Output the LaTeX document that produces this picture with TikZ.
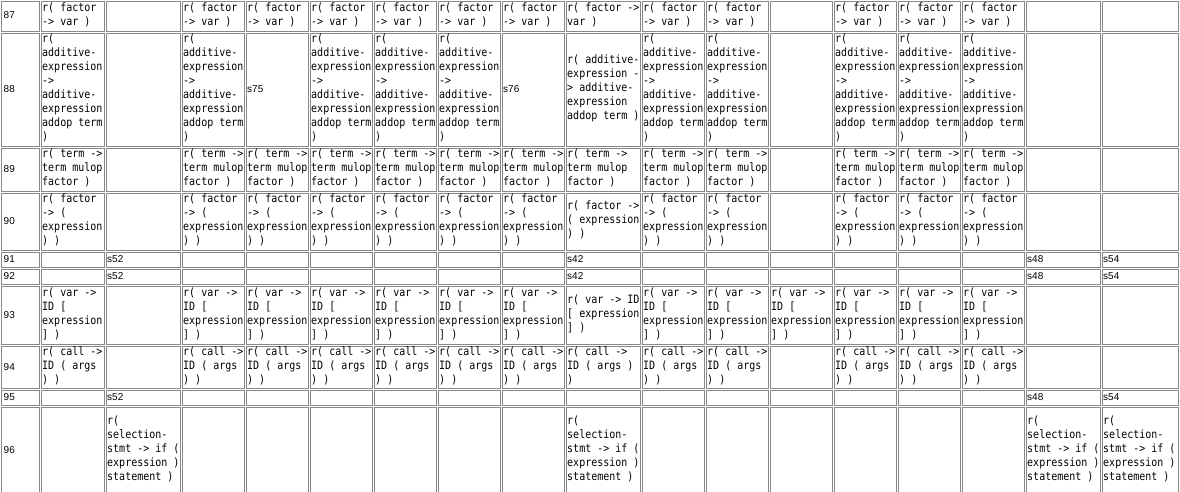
\documentclass[tikz,border=0pt]{standalone}
\usepackage{fontspec}
\newfontfamily\monof[FakeStretch=0.87]{DejaVu Sans Mono}
\newfontfamily\numf{Liberation Sans}
\definecolor{bd}{HTML}{888888}
\newcommand\lstrut{\rule[-4pt]{0pt}{14pt}}
\newcommand\tFV{r( factor\\-> var )}
\newcommand\tAE{r(\\additive-\\expression\\->\\additive-\\expression\\addop term\\)}
\newcommand\tTM{r( term ->\\term mulop\\factor )}
\newcommand\tFE{r( factor\\-> (\\expression\\) )}
\newcommand\tVI{r( var ->\\ID {[}\\expression\\{]} )}
\newcommand\tCI{r( call ->\\ID ( args\\) )}
\newcommand\tSS{r(\\selection-\\stmt -> if (\\expression )\\statement )}
\tikzset{
  cellbox/.style={draw=bd, line width=1pt},
  ct/.style={anchor=west, inner sep=0pt, align=left, text=black,
    font=\monof\fontsize{11.5}{14}\selectfont,
    execute at begin node=\lstrut, execute at end node=\lstrut},
  nt/.style={anchor=west, inner sep=0pt, text=black,
    font=\numf\fontsize{10}{14}\selectfont,
    execute at begin node=\lstrut},
}
\begin{document}
\begin{tikzpicture}[x=1pt,y=-1pt]
\useasboundingbox (0,0) rectangle (1180,492);
\fill[white] (0,0) rectangle (1180,492);
\clip (0,0) rectangle (1180,492);
% cell borders
\foreach \xl/\xr in {0/40,40/105,105/181,181/245,245/309,309/373,373/437,437/501,501/565,565/641,641/705,705/769,769/833,833/897,897/961,961/1025,1025/1101,1101/1179}{
  \foreach \yt/\yb in {0/32,32/147,147/192,192/251,251/268,268/285,285/345,345/389,389/406,406/494}{
    \draw[cellbox] (\xl+1.5,\yt+1.5) rectangle (\xr-0.5,\yb-0.5);
  }
}
% row numbers
\foreach \n/\y in {87/16,88/89.5,89/169.5,90/221.5,91/259.5,92/276.5,93/315,94/367,95/397.5,96/450}{
  \node[nt] (num\n) at (3.5,\y) {\n};
}
% row 87
\foreach \c in {40,181,245,309,373,437,501,641,705,833,897,961}{
  \node[ct] (a87c\c) at (\c+2,16) {\tFV};
}
\node[ct] (a87c565) at (567,16) {r( factor ->\\var )};
% row 88
\foreach \c in {40,181,309,373,437,641,705,833,897,961}{
  \node[ct] (a88c\c) at (\c+2,89.5) {\tAE};
}
\node[nt] (a88c245) at (247,89.5) {s75};
\node[nt] (a88c501) at (503,89.5) {s76};
\node[ct] (a88c565) at (567,89.5) {r( additive-\\expression -\\> additive-\\expression\\addop term )};
% row 89
\foreach \c in {40,181,245,309,373,437,501,565,641,705,833,897,961}{
  \node[ct] (a89c\c) at (\c+2,169.5) {\tTM};
}
% row 90
\foreach \c in {40,181,245,309,373,437,501,641,705,833,897,961}{
  \node[ct] (a90c\c) at (\c+2,221.5) {\tFE};
}
\node[ct] (a90c565) at (567,221.5) {r( factor ->\\( expression\\) )};
% rows 91, 92
\foreach \r/\y in {91/259.5,92/276.5}{
  \node[nt] (a\r c105) at (107,\y) {s52};
  \node[nt] (a\r c565) at (567,\y) {s42};
  \node[nt] (a\r c1025) at (1027,\y) {s48};
  \node[nt] (a\r c1101) at (1103,\y) {s54};
}
% row 93
\foreach \c in {40,181,245,309,373,437,501,641,705,769,833,897,961}{
  \node[ct] (a93c\c) at (\c+2,315) {\tVI};
}
\node[ct] (a93c565) at (567,315) {r( var -> ID\\{[} expression\\{]} )};
% row 94
\foreach \c in {40,181,245,309,373,437,501,641,705,833,897,961}{
  \node[ct] (a94c\c) at (\c+2,367) {\tCI};
}
\node[ct] (a94c565) at (567,367) {r( call ->\\ID ( args )\\)};
% row 95
\node[nt] (a95c105) at (107,397.5) {s52};
\node[nt] (a95c1025) at (1027,397.5) {s48};
\node[nt] (a95c1101) at (1103,397.5) {s54};
% row 96
\foreach \c in {105,565,1025,1101}{
  \node[ct] (a96c\c) at (\c+2,450) {\tSS};
}
\end{tikzpicture}
\end{document}
